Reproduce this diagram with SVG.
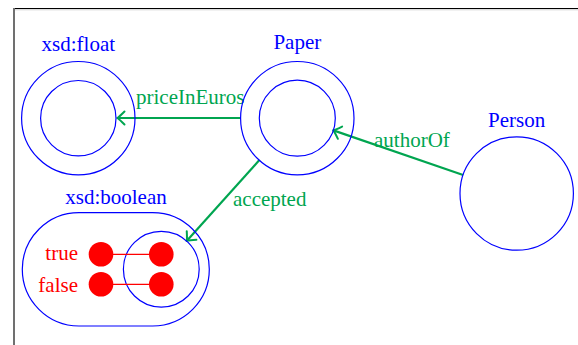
<svg xmlns="http://www.w3.org/2000/svg" width="578" height="345" viewBox="0 0 578 345">
  <style>
    text { font-family: 'Liberation Serif', 'Times New Roman', serif; font-size: 21px; }
    .ring { fill: none; stroke: #0000ff; stroke-width: 1.2; }
    .cls { fill: #0000ff; text-anchor: middle; }
    .prop { fill: #00a550; }
    .val { fill: #ff0000; text-anchor: end; }
    .edge { fill: none; stroke: #00a550; stroke-width: 2.2; }
    .dot { fill: #ff0000; }
    .link { stroke: #ff0000; stroke-width: 1.3; }
  </style>
  <defs>
    <marker id="arrow" markerUnits="userSpaceOnUse" viewBox="-10 -8 12 16" markerWidth="12" markerHeight="16" refX="0" refY="0" orient="auto" overflow="visible">
      <path d="M -7,-6.5 Q -2,-1.5 0,0 Q -2,1.5 -7,6.5" fill="none" stroke="#00a550" stroke-width="2" stroke-linecap="round"/>
    </marker>
  </defs>

  <rect width="578" height="345" fill="#ffffff"/>
  <!-- frame -->
  <line x1="14" y1="8.5" x2="578" y2="8.5" stroke="#000000" stroke-width="1.2"/>
  <line x1="14" y1="9.8" x2="578" y2="9.8" stroke="#d0d0d0" stroke-width="1"/>
  <line x1="14" y1="8" x2="14" y2="345" stroke="#707070" stroke-width="2"/>

  <!-- connectors -->
  <g id="connectors">
    <line class="edge" x1="240.6" y1="118" x2="117.5" y2="118" marker-end="url(#arrow)"/>
    <line class="edge" x1="259.4" y1="160.1" x2="186.9" y2="240.7" marker-end="url(#arrow)"/>
    <line class="edge" x1="463.1" y1="175" x2="333.4" y2="130.4" marker-end="url(#arrow)"/>
    <text class="prop" x="136" y="104">priceInEuros</text>
    <text class="prop" x="233" y="206">accepted</text>
    <text class="prop" x="374" y="147">authorOf</text>
  </g>

  <g id="float">
    <text class="cls" x="78.3" y="51">xsd:float</text>
    <circle class="ring" cx="78.3" cy="118.2" r="56.7"/>
    <circle class="ring" cx="78.3" cy="118.2" r="37.7"/>
  </g>

  <g id="paper">
    <text class="cls" x="297.3" y="48.5">Paper</text>
    <circle class="ring" cx="297.3" cy="118.2" r="56.7"/>
    <circle class="ring" cx="297.3" cy="118.2" r="38"/>
  </g>

  <g id="person">
    <text class="cls" x="516.7" y="127">Person</text>
    <circle class="ring" cx="516.7" cy="193.5" r="56.7"/>
  </g>

  <g id="boolean">
    <text class="cls" x="116" y="203.5">xsd:boolean</text>
    <rect class="ring" x="22.3" y="212.7" width="187" height="113.3" rx="56.7" ry="56.7"/>
    <circle class="ring" cx="161.3" cy="269.2" r="37.9"/>
    <line class="link" x1="101" y1="254.3" x2="161.3" y2="254.3"/>
    <line class="link" x1="101" y1="284.3" x2="161.3" y2="284.3"/>
    <circle class="dot" cx="101" cy="254.3" r="12.3"/>
    <circle class="dot" cx="161.3" cy="254.3" r="12.3"/>
    <circle class="dot" cx="101" cy="284.3" r="12.3"/>
    <circle class="dot" cx="161.3" cy="284.3" r="12.3"/>
    <text class="val" x="78" y="260">true</text>
    <text class="val" x="78" y="291.5">false</text>
  </g>
</svg>
